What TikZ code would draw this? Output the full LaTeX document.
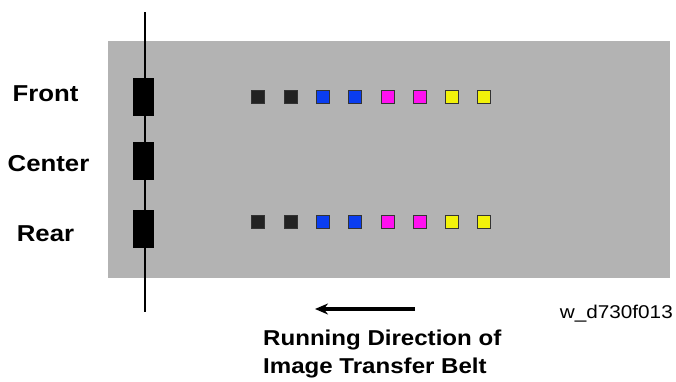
\documentclass[tikz,border=0pt]{standalone}
\usepackage{fontspec}
\setmainfont{Liberation Sans}[FakeStretch=1.12]
\usepackage{tikz}
\usetikzlibrary{positioning, arrows.meta}

\definecolor{beltgray}{HTML}{B3B3B3}
\definecolor{tonerK}{HTML}{222222}
\definecolor{tonerC}{HTML}{0A3DF0}
\definecolor{tonerM}{HTML}{FF10F0}
\definecolor{tonerY}{HTML}{F2F20A}

\begin{document}
\begin{tikzpicture}[
    x=1pt, y=-1pt,
    sensor/.style={rectangle, fill=black, draw=black, minimum width=20pt, minimum height=37pt, inner sep=0pt},
    patch/.style={rectangle, draw=black!80, line width=0.8pt, minimum size=13pt, inner sep=0pt},
    side/.style={font=\fontsize{23}{27}\selectfont\bfseries, inner sep=0pt, anchor=base}
]
    \useasboundingbox (0,0) rectangle (676,381);

    % Belt
    \fill[beltgray] (108,41) rectangle (670,278);

    % Sensor rail
    \coordinate (railtop) at (145,12);
    \coordinate (railbot) at (145,312);
    \draw[line width=2pt] (railtop) -- (railbot);

    % Sensors
    \node[sensor] (sfront) at (143.5,96.5) {};
    \node[sensor] (scenter) at (143.5,161) {};
    \node[sensor] (srear) at (143.5,229) {};

    % Labels
    \node[side] (lfront) at (45.5,101.7) {Front};
    \node[side] (lcenter) at (48.5,171.7) {Center};
    \node[side] (lrear) at (45.5,241.7) {Rear};

    % Toner patches
    \foreach \x/\c [count=\i] in {257.5/tonerK, 291/tonerK, 322.5/tonerC, 354.5/tonerC, 387.5/tonerM, 419.5/tonerM, 452/tonerY, 484/tonerY} {
        \node[patch, fill=\c] (pf\i) at (\x,96.5) {};
        \node[patch, fill=\c] (pr\i) at (\x,221.5) {};
    }

    % Running direction
    \coordinate (dirtail) at (415,309);
    \coordinate (dirhead) at (315,309);
    \draw[-{Stealth[length=13pt, width=11pt]}, line width=3.5pt] (dirtail) -- (dirhead);
    \node[font=\fontsize{21.5}{28}\selectfont\bfseries, align=left, anchor=north west, inner sep=0pt] (dirtext) at (263,330) {Running Direction of\\Image Transfer Belt};

    \node[font=\fontsize{18.5}{22}\selectfont, anchor=base east, inner sep=0pt] (figid) at (673,318) {w\_d730f013};
\end{tikzpicture}
\end{document}
